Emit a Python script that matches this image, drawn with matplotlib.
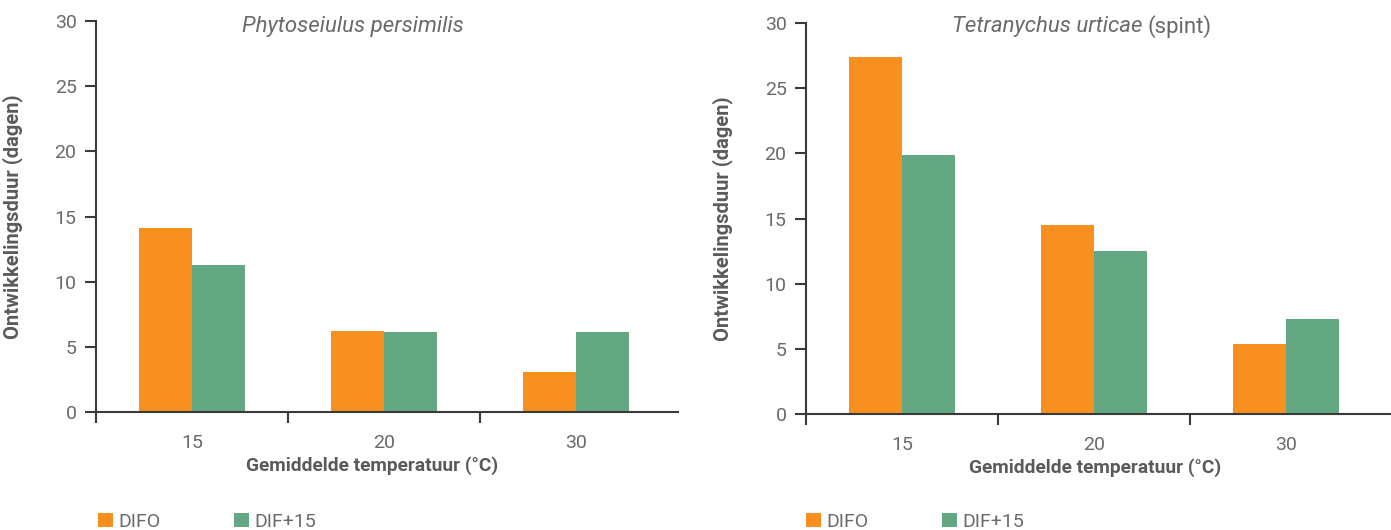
import numpy as np
import matplotlib.pyplot as plt

# Data
temps = ['15', '20', '30']
series_names = ['DIFO', 'DIF+15']
phyto_difo = [14.1, 6.2, 3.1]
phyto_dif15 = [11.3, 6.1, 6.1]
tetra_difo = [27.4, 14.5, 5.4]
tetra_dif15 = [19.9, 12.5, 7.3]

orange = '#F7901E'
green = '#63A783'
axis_col = '#3a3a3a'
text_col = '#6a6a6a'

plt.rcParams['font.family'] = ['Roboto', 'DejaVu Sans']

fig = plt.figure(figsize=(13.91, 5.30), dpi=100)
ax1 = fig.add_axes([96 / 1391, 118 / 530, 582 / 1391, 391 / 530])
ax2 = fig.add_axes([806 / 1391, 116 / 530, 585 / 1391, 391 / 530])

x = np.arange(len(temps))
w = 0.276


def style(ax, difo, dif15, xmax, xlab_x):
    ax.bar(x - w / 2, difo, width=w, color=orange, label=series_names[0])
    ax.bar(x + w / 2, dif15, width=w, color=green, label=series_names[1])
    ax.set_xlim(-0.5, xmax)
    ax.set_ylim(0, 30)
    ax.set_yticks([0, 5, 10, 15, 20, 25, 30])
    ax.set_xticks(x)
    ax.set_xticklabels(temps)
    ax.set_xticks([-0.5, 0.5, 1.5], minor=True)
    for s in ['top', 'right']:
        ax.spines[s].set_visible(False)
    for s in ['left', 'bottom']:
        ax.spines[s].set_color(axis_col)
        ax.spines[s].set_linewidth(1.5)
    ax.tick_params(axis='x', which='major', length=0, pad=16,
                   labelsize=14, labelcolor=text_col)
    ax.tick_params(axis='x', which='minor', length=8, width=1.5,
                   color=axis_col, direction='out')
    ax.tick_params(axis='y', length=8, width=1.5, color=axis_col,
                   labelsize=14, labelcolor=text_col, pad=6)
    ax.set_ylabel('Ontwikkelingsduur (dagen)', fontsize=14.5,
                  fontweight='bold', color='#5a5a5a')
    ax.yaxis.set_label_coords(-0.125, 0.5)
    ax.set_xlabel('Gemiddelde temperatuur (°C)', fontsize=13.8,
                  fontweight='bold', color='#5a5a5a')
    ax.xaxis.set_label_coords(xlab_x, -0.112)


style(ax1, phyto_difo, phyto_dif15, 2.53, 0.474)
style(ax2, tetra_difo, tetra_dif15, 2.545, 0.494)

ax1.text(0.442, 0.985, 'Phytoseiulus persimilis', transform=ax1.transAxes,
         ha='center', va='center', fontsize=16, style='italic',
         color=text_col)
ax2.text(0.576, 0.99, 'Tetranychus urticae', transform=ax2.transAxes,
         ha='right', va='center', fontsize=16, style='italic',
         color=text_col)
ax2.text(0.584, 0.99, '(spint)', transform=ax2.transAxes,
         ha='left', va='center', fontsize=16, color=text_col)

for ax, lx in [(ax1, 98), (ax2, 806)]:
    leg = ax.legend(loc='center left', bbox_to_anchor=(lx / 1391, 8 / 530),
                    bbox_transform=fig.transFigure, ncol=2, frameon=False,
                    fontsize=14, handlelength=0.75, handleheight=0.75,
                    handletextpad=0.3, columnspacing=3.8, borderpad=0,
                    borderaxespad=0)
    for t in leg.get_texts():
        t.set_color(text_col)

fig.savefig('out.png', dpi=100)
